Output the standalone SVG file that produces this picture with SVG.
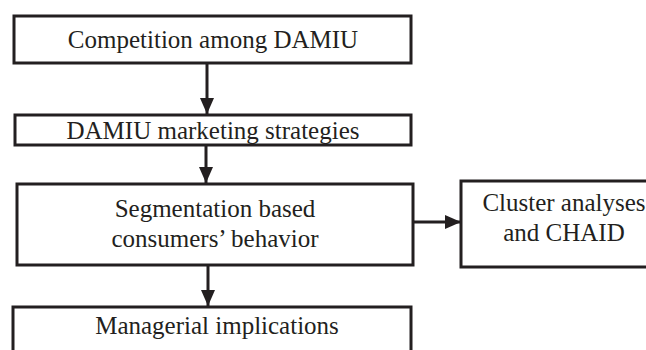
<svg xmlns="http://www.w3.org/2000/svg" width="646" height="350" viewBox="0 0 646 350">
<style>
.box{fill:#fff;stroke:#231f20;stroke-width:3}
.t{font-family:'Liberation Serif','DejaVu Serif',serif;font-size:25px;fill:#231f20;text-anchor:middle}
.c{stroke:#231f20;stroke-width:3;fill:none}
</style>
<defs>
<marker id="ah" markerUnits="userSpaceOnUse" markerWidth="16" markerHeight="20" refX="16" refY="8" orient="auto">
<path d="M0,1 L16,8 L0,15 Z" fill="#231f20"/>
</marker>
</defs>
<rect width="646" height="350" fill="#fff"/>
<g id="n1"><rect class="box" x="14" y="16" width="397" height="47"/><text class="t" font-family="Liberation Serif, serif" x="213" y="48">Competition among DAMIU</text></g>
<g id="n2"><rect class="box" x="15" y="115" width="396" height="30"/><text class="t" font-family="Liberation Serif, serif" x="213" y="139">DAMIU marketing strategies</text></g>
<g id="n3"><rect class="box" x="17" y="184" width="396" height="81"/><text class="t" font-family="Liberation Serif, serif" x="215" y="217">Segmentation based</text><text class="t" font-family="Liberation Serif, serif" x="215" y="247">consumers’ behavior</text></g>
<g id="n4"><rect class="box" x="13" y="307" width="398" height="60"/><text class="t" font-family="Liberation Serif, serif" x="217" y="334">Managerial implications</text></g>
<g id="n5"><rect class="box" x="461" y="181" width="200" height="86"/><text class="t" font-family="Liberation Serif, serif" x="564" y="211">Cluster analyses</text><text class="t" font-family="Liberation Serif, serif" x="564" y="241">and CHAID</text></g>
<g id="connectors">
<line class="c" x1="207" y1="63" x2="207" y2="114" marker-end="url(#ah)"/>
<line class="c" x1="206" y1="145" x2="206" y2="183" marker-end="url(#ah)"/>
<line class="c" x1="208" y1="265" x2="208" y2="306" marker-end="url(#ah)"/>
<line class="c" x1="413" y1="222" x2="461" y2="222" marker-end="url(#ah)"/>
</g>
</svg>
